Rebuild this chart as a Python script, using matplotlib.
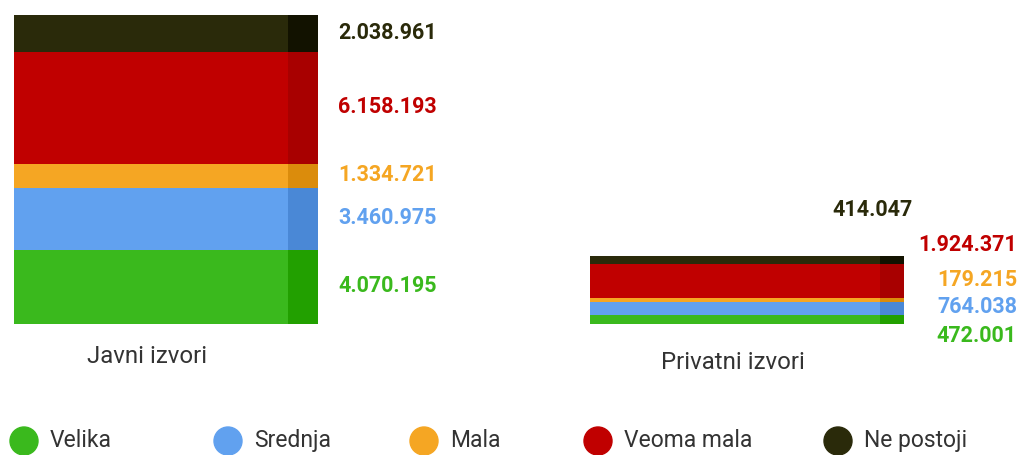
import numpy as np
import matplotlib.pyplot as plt
from matplotlib import rcParams
from matplotlib.patches import Ellipse

rcParams['font.family'] = 'sans-serif'
rcParams['font.sans-serif'] = ['Roboto', 'DejaVu Sans']

categories = ['Javni izvori', 'Privatni izvori']
series = ['Velika', 'Srednja', 'Mala', 'Veoma mala', 'Ne postoji']
values = {
    'Velika': [4070195, 472001],
    'Srednja': [3460975, 764038],
    'Mala': [1334721, 179215],
    'Veoma mala': [6158193, 1924371],
    'Ne postoji': [2038961, 414047],
}
front_colors = ['#3ab91d', '#61a1ef', '#f5a623', '#c00000', '#2a2a0a']
side_colors = ['#22a000', '#4a88d6', '#db8c0c', '#a80000', '#121200']

W, H = 1021, 455
fig = plt.figure(figsize=(W / 100, H / 100), dpi=100)
ax = fig.add_axes([0, 0, 1, 1])

# pixel geometry -> data units (1 category step = 584 px, 18.1 px per million)
step = 584.
ppm = 18.1 / 1e6
base_px = 324
x = np.arange(len(categories))
front_w = np.array([274., 290.]) / step
side_w = np.array([30., 24.]) / step

bottom = np.zeros(len(categories))
for i, s in enumerate(series):
    v = np.array(values[s], dtype=float)
    ax.bar(x, v, front_w, bottom=bottom, color=front_colors[i], linewidth=0)
    ax.bar(x + front_w / 2 + side_w / 2, v, side_w, bottom=bottom,
           color=side_colors[i], linewidth=0)
    bottom += v

ax.set_xlim(-151 / step, (W - 151) / step)
ax.set_ylim(-(H - base_px) / ppm, base_px / ppm)
ax.axis('off')


def fmt(n):
    return f'{n:,}'.replace(',', '.')


# labels for the public sources: to the right of the bar at segment centres
bottom = 0
for i, s in enumerate(series):
    v = values[s][0]
    ax.annotate(fmt(v), xy=(x[0] + front_w[0] / 2 + side_w[0], bottom + v / 2),
                xytext=(20, 1), textcoords='offset pixels',
                color=front_colors[i], fontsize=15.5, fontweight='bold',
                ha='left', va='center')
    bottom += v

# labels for the private sources are spread out to avoid overlap
priv_pos = [(1017, 336), (1017, 307), (1017, 280), (1017, 245), (913, 210)]
for i, s in enumerate(series):
    px, py = priv_pos[i]
    fig.text(px / W, 1 - py / H, fmt(values[s][1]), color=front_colors[i],
             fontsize=15.5, fontweight='bold', ha='right', va='center')

# category labels
fig.text(147.5 / W, 1 - 363 / H, categories[0], fontsize=17.3,
         color='#333333', ha='center', va='baseline')
fig.text(733 / W, 1 - 369 / H, categories[1], fontsize=17.3,
         color='#333333', ha='center', va='baseline')

# legend
leg_x = [24, 228, 424, 598, 838]
for i, s in enumerate(series):
    fig.patches.append(Ellipse((leg_x[i] / W, 1 - 441 / H), 28 / W, 28 / H,
                               transform=fig.transFigure,
                               color=front_colors[i]))
    fig.text((leg_x[i] + 26) / W, 1 - 447 / H, s, fontsize=16.5,
             color='#333333', ha='left', va='baseline')

fig.savefig('out.png', dpi=100)
